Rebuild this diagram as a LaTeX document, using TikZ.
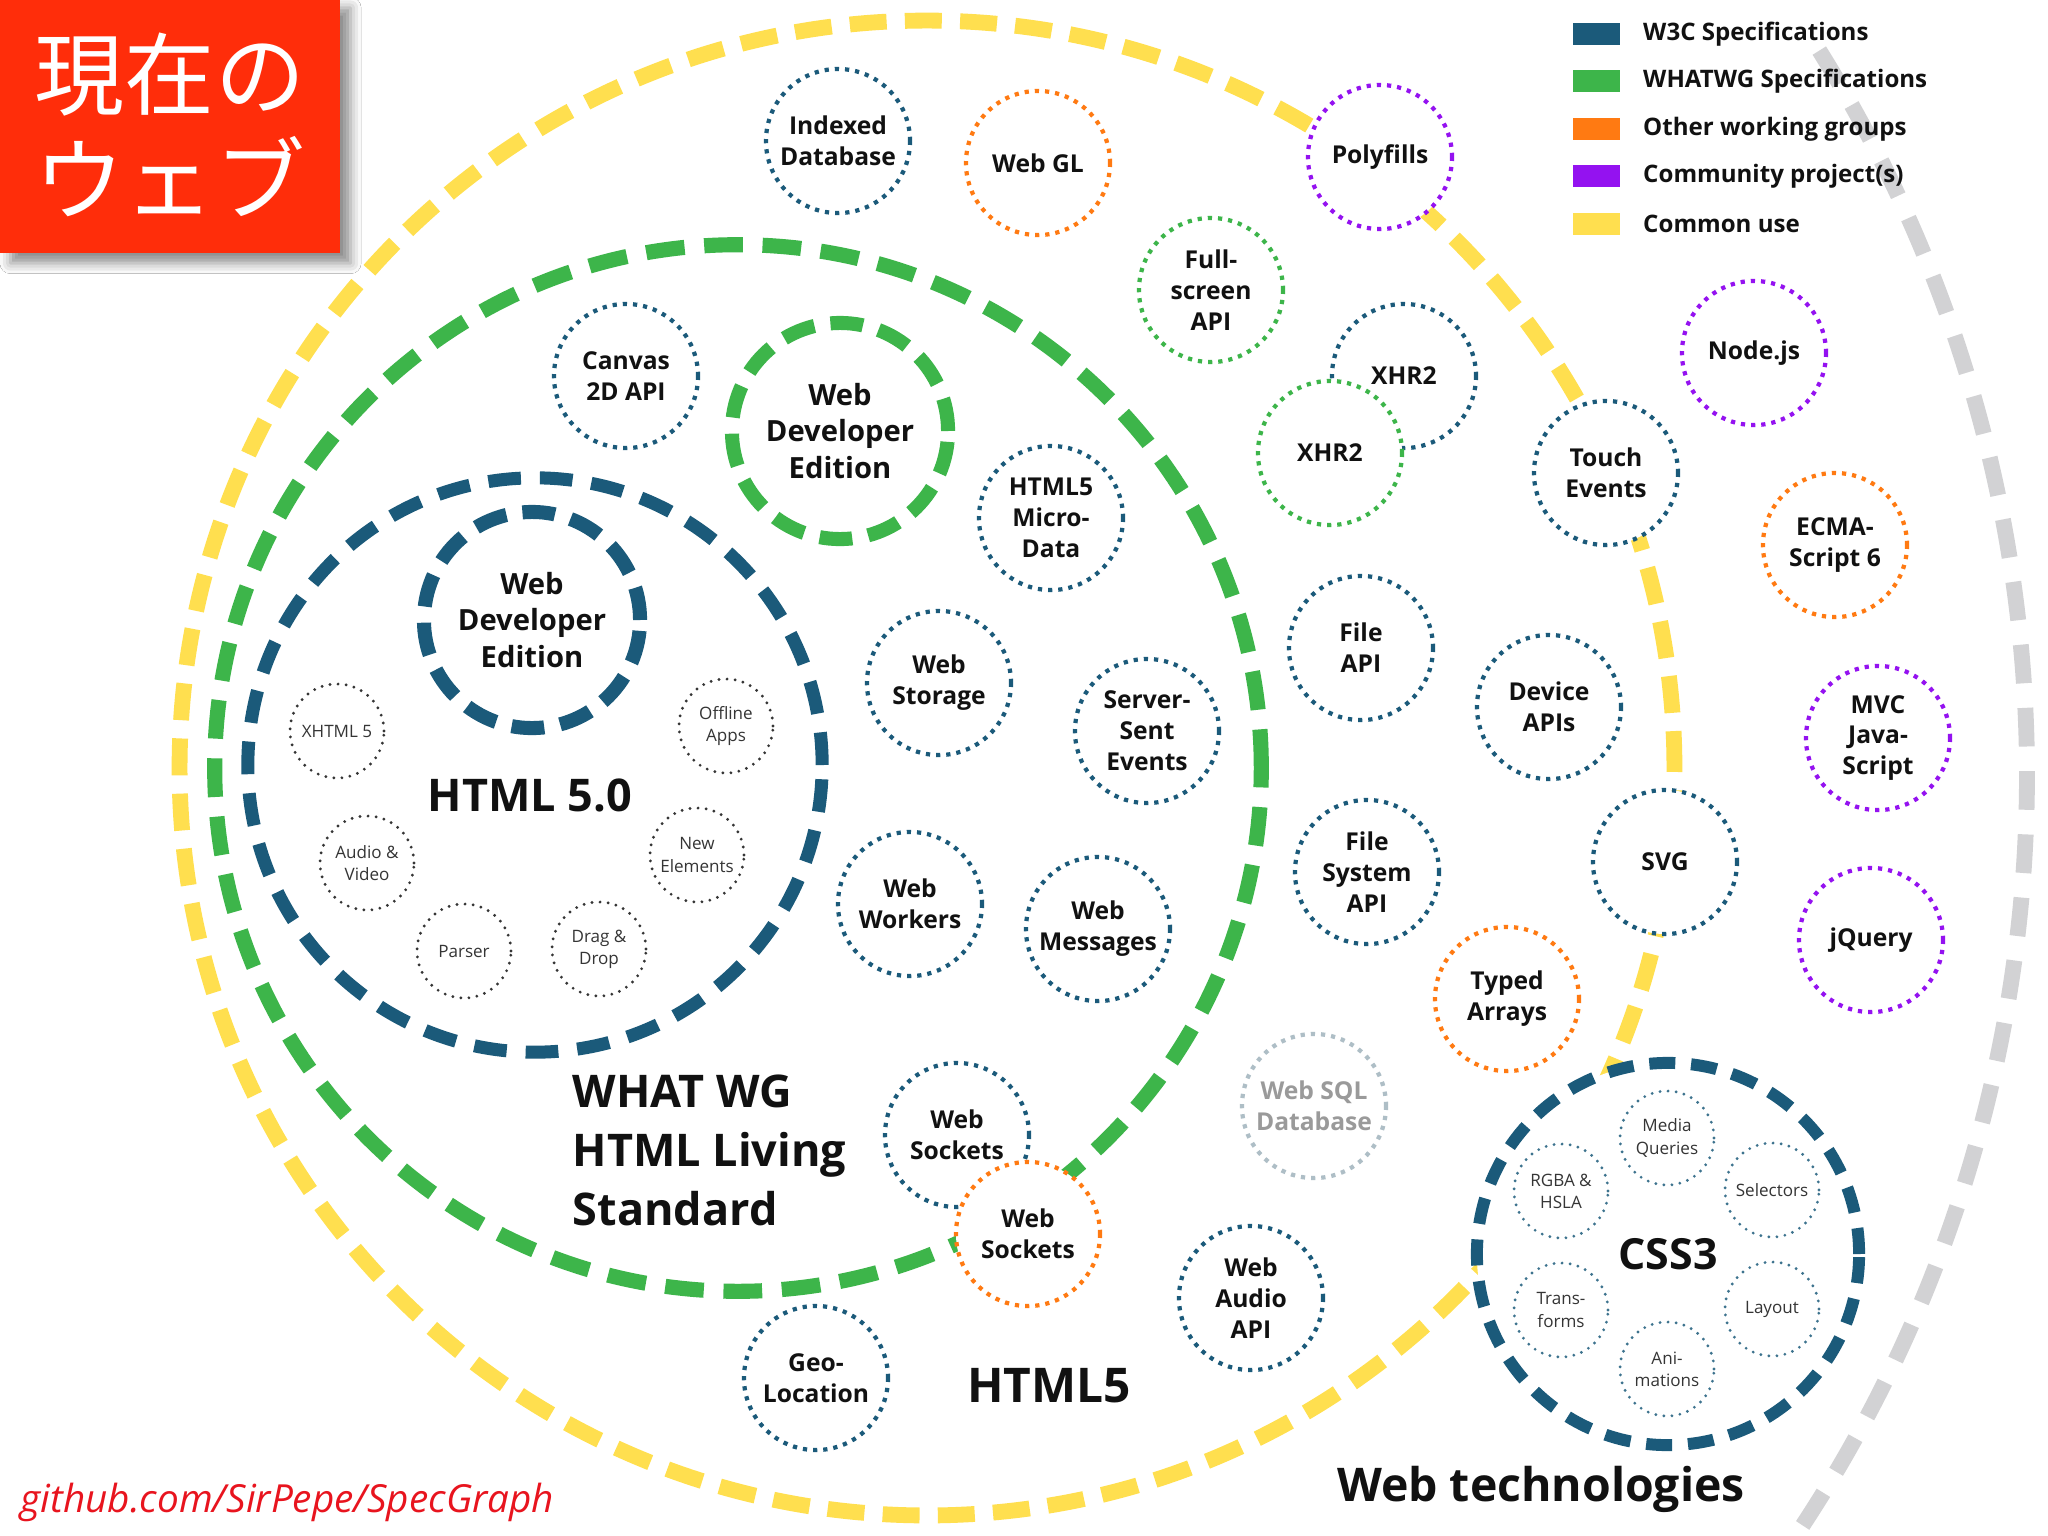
\documentclass[tikz,border=0pt]{standalone}
\usepackage{fontspec}
\setmainfont{Open Sans}
\newfontfamily\cjkfont{Noto Sans CJK JP}
\usepackage{tikz}
\usetikzlibrary{positioning,shadows.blur}

\definecolor{w3cblue}{HTML}{1B5A7A}
\definecolor{wggreen}{HTML}{3DB54A}
\definecolor{othorange}{HTML}{FF7A12}
\definecolor{commpurple}{HTML}{9412F0}
\definecolor{useyellow}{HTML}{FFDF4F}
\definecolor{webgray}{HTML}{D2D2D4}
\definecolor{oldgray}{HTML}{AEBEC6}
\definecolor{oldtext}{HTML}{9A9A9A}
\definecolor{titlered}{HTML}{FF2D0A}
\definecolor{linkred}{HTML}{E8141E}
\definecolor{ink}{HTML}{111111}

\begin{document}
\begin{tikzpicture}[x=0.01cm,y=-0.01cm,
  spec/.style={circle,draw,fill=white,line width=1.2pt,dash pattern=on 1.2pt off 1.7pt,
    minimum size=1.44cm,inner sep=0pt,align=center,text=ink,font=\fontsize{7}{8.8}\selectfont\bfseries},
  w3cspec/.style={spec,draw=w3cblue}, wgspec/.style={spec,draw=wggreen},
  othspec/.style={spec,draw=othorange}, commspec/.style={spec,draw=commpurple},
  oldspec/.style={spec,draw=oldgray,text=oldtext},
  edition/.style={circle,draw,fill=white,line width=4pt,dash pattern=on 9.3pt off 4.6pt,
    minimum size=2.16cm,inner sep=0pt,align=center,text=ink,font=\fontsize{8.3}{10.4}\selectfont\bfseries},
  feat/.style={circle,draw=ink!85,fill=white,line width=0.9pt,line cap=round,dash pattern=on 0pt off 2.3pt,
    minimum size=0.94cm,inner sep=0pt,align=center,text=ink!85,font=\fontsize{4.85}{6.3}\selectfont},
  cssfeat/.style={feat,draw=w3cblue!85},
  ring/.style={circle,draw,inner sep=0pt},
  bigtitle/.style={font=\fontsize{12.8}{16.8}\selectfont\bfseries,text=ink,align=left,inner sep=0pt},
  legsq/.style={minimum width=0.47cm,minimum height=0.22cm,inner sep=0pt,outer sep=0pt},
  legtext/.style={font=\fontsize{6.85}{8}\selectfont\bfseries,text=ink,inner sep=0pt,anchor=west}]
\useasboundingbox (0,0) rectangle (2048,1536);
\fill[white] (0,0) rectangle (2048,1536);
\clip (0,0) rectangle (2048,1536);
% outer rings
\node[ring,draw=useyellow,line width=4.5pt,dash pattern=on 10.5pt off 5.2pt,minimum size=14.94cm] (html5ring) at (927,768) {};
\coordinate (webctr) at (660,775);
\draw[webgray,line width=4.5pt,dash pattern=on 11pt off 7pt] (webctr) ++(-32:1367) arc[start angle=-32,end angle=36,radius=1367];
\node[ring,draw=wggreen,line width=4.3pt,dash pattern=on 11pt off 5.6pt,minimum size=10.46cm] (wgring) at (738,768) {};
\node[ring,draw=w3cblue,line width=3.7pt,dash pattern=on 9.3pt off 5.4pt,minimum size=5.74cm] (fivering) at (535,765) {};
\node[ring,draw=w3cblue,fill=white,line width=3.4pt,dash pattern=on 7.4pt off 4.5pt,minimum size=3.82cm,
  font=\fontsize{12.2}{14}\selectfont\bfseries,text=ink] (cssring) at (1668,1254) {CSS3};
% HTML 5.0
\node[edition,draw=w3cblue] (wdeblue) at (532,620) {Web\\Developer\\Edition};
\node[bigtitle] (fivelabel) at (530,795) {HTML 5.0};
\node[feat] (xhtml)    at (337,731) {XHTML 5};
\node[feat] (offline)  at (726,726) {Offline\\Apps};
\node[feat] (audio)    at (367,863) {Audio \&\\Video};
\node[feat] (newel)    at (697,855) {New\\Elements};
\node[feat] (parser)   at (464,951) {Parser};
\node[feat] (dragdrop) at (599,949) {Drag \&\\Drop};
% WHATWG living standard
\node[edition,draw=wggreen] (wdegreen) at (840,431) {Web\\Developer\\Edition};
\node[bigtitle,anchor=west] (wglabel) at (572,1150) {WHAT WG\\HTML Living\\Standard};
\node[w3cspec] (canvas)    at (626,376)  {Canvas\\2D API};
\node[w3cspec] (microdata) at (1051,518) {HTML5\\Micro-\\Data};
\node[w3cspec] (storage)   at (939,683)  {Web\\Storage};
\node[w3cspec] (sse)       at (1147,731) {Server-\\Sent\\Events};
\node[w3cspec] (workers)   at (910,904)  {Web\\Workers};
\node[w3cspec] (messages)  at (1098,929) {Web\\Messages};
\node[w3cspec] (sockb)     at (957,1135) {Web\\Sockets};
\node[othspec] (socko)     at (1028,1234) {Web\\Sockets};
% HTML5
\node[bigtitle,font=\fontsize{13.6}{16}\selectfont\bfseries] (html5label) at (1049,1386) {HTML5};
\node[w3cspec]  (idb)        at (838,141)   {Indexed\\Database};
\node[othspec]  (webgl)      at (1038,163)  {Web GL};
\node[commspec] (polyfills)  at (1380,157)  {Polyfills};
\node[wgspec]   (fullscreen) at (1211,290)  {Full-\\screen\\API};
\node[w3cspec]  (xhrb)       at (1404,376)  {XHR2};
\node[wgspec]   (xhrg)       at (1330,453)  {XHR2};
\node[w3cspec]  (touch)      at (1606,473)  {Touch\\Events};
\node[w3cspec]  (fileapi)    at (1361,648)  {File\\API};
\node[w3cspec]  (device)     at (1549,707)  {Device\\APIs};
\node[w3cspec]  (svg)        at (1665,862)  {SVG};
\node[w3cspec]  (filesys)    at (1367,872)  {File\\System\\API};
\node[othspec]  (typed)      at (1507,999)  {Typed\\Arrays};
\node[oldspec]  (websql)     at (1314,1106) {Web SQL\\Database};
\node[w3cspec]  (audioapi)   at (1251,1298) {Web\\Audio\\API};
\node[w3cspec]  (geo)        at (816,1378)  {Geo-\\Location};
% web technologies
\node[commspec] (nodejs) at (1754,353) {Node.js};
\node[othspec]  (ecma)   at (1835,545) {ECMA-\\Script 6};
\node[commspec] (mvc)    at (1878,738) {MVC\\Java-\\Script};
\node[commspec] (jquery) at (1871,940) {jQuery};
\node[bigtitle,font=\fontsize{13.2}{15}\selectfont\bfseries] (weblabel) at (1541,1489) {Web technologies};
% CSS3
\node[cssfeat] (media)     at (1667,1138) {Media\\Queries};
\node[cssfeat] (rgba)      at (1561,1191) {RGBA \&\\HSLA};
\node[cssfeat] (selectors) at (1772,1190) {Selectors};
\node[cssfeat] (trans)     at (1561,1310) {Trans-\\forms};
\node[cssfeat] (layout)    at (1772,1309) {Layout};
\node[cssfeat] (anim)      at (1667,1369) {Ani-\\mations};
% legend
\node[legsq,fill=w3cblue] (legw3c) at (1596,34) {};
\node[legsq,fill=wggreen,below=0.254cm of legw3c] (legwg) {};
\node[legsq,fill=othorange,below=0.254cm of legwg] (legoth) {};
\node[legsq,fill=commpurple,below=0.254cm of legoth] (legcomm) {};
\node[legsq,fill=useyellow,below=0.254cm of legcomm] (leguse) {};
\node[legtext,right=0.23cm of legw3c]  {W3C Specifications};
\node[legtext,right=0.23cm of legwg]   {WHATWG Specifications};
\node[legtext,right=0.23cm of legoth]  {Other working groups};
\node[legtext,right=0.23cm of legcomm] {Community project(s)};
\node[legtext,right=0.23cm of leguse]  {Common use};
% title and link
\node[fill=titlered,minimum width=3.4cm,minimum height=2.55cm,inner sep=0pt,align=center,text=white,
  font=\cjkfont\fontsize{25.6}{29.8}\selectfont,
  blur shadow={shadow xshift=3pt,shadow yshift=-3pt,shadow blur radius=3pt,shadow opacity=45}] (title) at (170,125) {現在の\\ウェブ};
\node[anchor=west,inner sep=0pt,text=linkred,font=\fontsize{11}{13}\selectfont\itshape] (link) at (20,1502) {github.com/SirPepe/SpecGraph};
\end{tikzpicture}
\end{document}
